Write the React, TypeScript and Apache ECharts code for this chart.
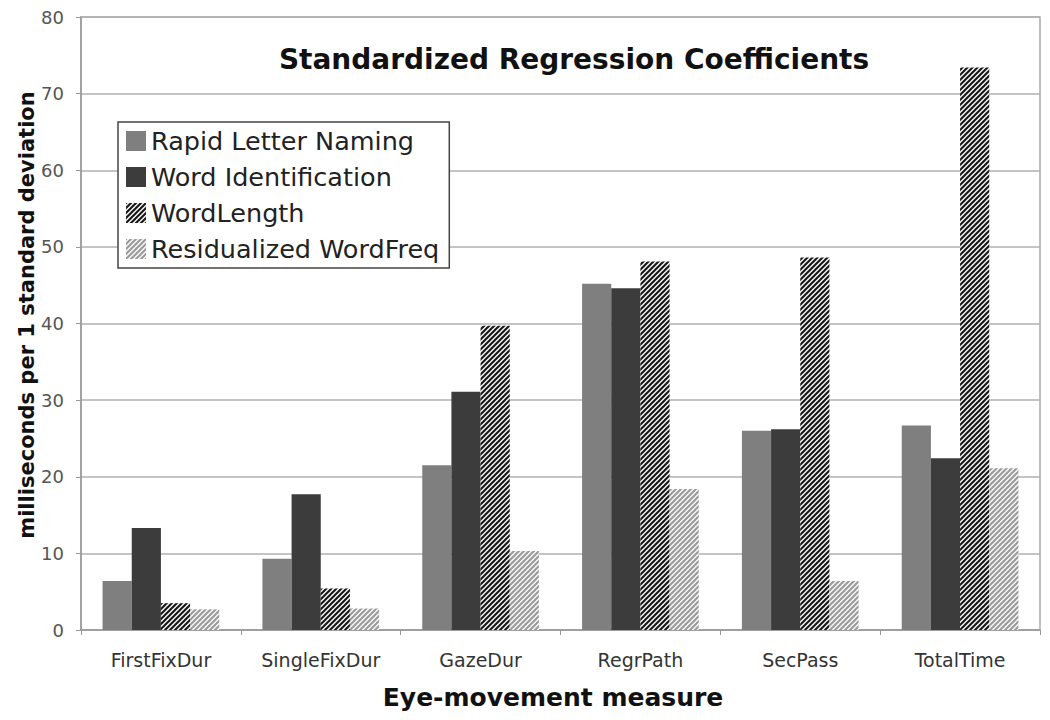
import React, { useEffect, useRef } from "react";
import * as echarts from "echarts";

const categories = ["FirstFixDur", "SingleFixDur", "GazeDur", "RegrPath", "SecPass", "TotalTime"];
const seriesNames = ["Rapid Letter Naming", "Word Identification", "WordLength", "Residualized WordFreq"];
const rapidLetterNaming = [6.4, 9.3, 21.5, 45.2, 26.0, 26.7];
const wordIdentification = [13.3, 17.7, 31.1, 44.6, 26.2, 22.4];
const wordLength = [3.5, 5.4, 39.7, 48.1, 48.6, 73.4];
const residualizedWordFreq = [2.7, 2.8, 10.3, 18.4, 6.4, 21.1];
const yTicks = [0, 10, 20, 30, 40, 50, 60, 70, 80];

function stripe(fg: string, bg: string, size: number, lw: number): string {
  const c = document.createElement("canvas");
  c.width = size;
  c.height = size;
  const ctx = c.getContext("2d")!;
  ctx.fillStyle = bg;
  ctx.fillRect(0, 0, size, size);
  ctx.strokeStyle = fg;
  ctx.lineWidth = lw;
  ctx.beginPath();
  for (let k = -1; k <= 1; k++) {
    ctx.moveTo(k * size - 1, size + 1);
    ctx.lineTo(k * size + size + 1, -1);
  }
  ctx.stroke();
  return c.toDataURL();
}

export default function App() {
  const ref = useRef<HTMLDivElement>(null);
  useEffect(() => {
    if (!ref.current) return;
    const chart = echarts.init(ref.current, undefined, { renderer: "svg" });
    const darkStripe = { image: stripe("#151515", "#f4f4f4", 5, 2), repeat: "repeat" };
    const lightStripe = { image: stripe("#9a9a9a", "#f6f6f6", 5, 2), repeat: "repeat" };
    const values = [rapidLetterNaming, wordIdentification, wordLength, residualizedWordFreq];
    const colors: any[] = ["#7f7f7f", "#3c3c3c", darkStripe, lightStripe];
    chart.setOption({
      animation: false,
      backgroundColor: "#ffffff",
      textStyle: { fontFamily: "DejaVu Sans" },
      title: {
        text: "Standardized Regression Coefficients",
        left: 569,
        top: 40,
        textAlign: "center",
        textStyle: { fontSize: 28, fontWeight: "bold", color: "#111", fontFamily: "DejaVu Sans" },
      },
      legend: {
        data: seriesNames,
        orient: "vertical",
        left: 118,
        top: 122,
        padding: [5, 10, 5, 8],
        borderColor: "#444",
        borderWidth: 1.5,
        backgroundColor: "#fff",
        itemWidth: 20,
        itemHeight: 20,
        itemGap: 8,
        icon: "rect",
        textStyle: { fontSize: 25.5, color: "#222", lineHeight: 28, fontFamily: "DejaVu Sans" },
      },
      grid: {
        left: 81,
        right: 10,
        top: 17,
        bottom: 90,
        show: true,
        borderColor: "#aaa",
        borderWidth: 1.5,
        backgroundColor: "transparent",
      },
      graphic: [
        {
          type: "text",
          x: 27,
          y: 315,
          rotation: Math.PI / 2,
          style: {
            text: "milliseconds per 1 standard deviation",
            fontSize: 21,
            fontWeight: "bold",
            fontFamily: "DejaVu Sans",
            fill: "#111",
            align: "center",
            verticalAlign: "middle",
          },
        },
        {
          type: "text",
          x: 553,
          y: 697,
          style: {
            text: "Eye-movement measure",
            fontSize: 25,
            fontWeight: "bold",
            fontFamily: "DejaVu Sans",
            fill: "#111",
            align: "center",
            verticalAlign: "middle",
          },
        },
      ],
      xAxis: {
        type: "category",
        data: categories,
        axisLine: { lineStyle: { color: "#999", width: 1.5 } },
        axisTick: { show: true, length: 5, lineStyle: { color: "#999" } },
        axisLabel: { fontSize: 19, color: "#333", margin: 20 },
      },
      yAxis: {
        type: "value",
        min: 0,
        max: 80,
        interval: 10,
        axisLine: { show: true, lineStyle: { color: "#999", width: 1.5 } },
        axisTick: { show: true, length: 5, lineStyle: { color: "#999" } },
        axisLabel: { fontSize: 18, color: "#555", margin: 17, formatter: (v: number) => (yTicks.includes(v) ? String(v) : "") },
        splitLine: { lineStyle: { color: "#b0b0b0", width: 1.5 } },
      },
      series: seriesNames.map((name, i) => ({
        name,
        type: "bar",
        data: values[i],
        barGap: "0%",
        barCategoryGap: "27%",
        itemStyle: { color: colors[i] },
      })),
    });
    return () => chart.dispose();
  }, []);
  return <div ref={ref} style={{ position: "fixed", left: 0, top: 0, width: 1050, height: 720 }} />;
}
